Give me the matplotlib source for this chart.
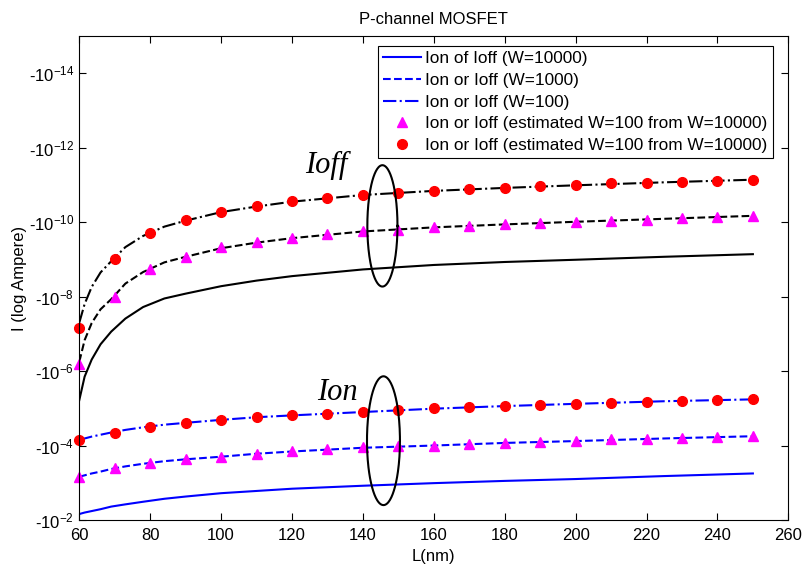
"""
P-channel MOSFET: Ion / Ioff versus channel length L for several widths W
(currents plotted as log magnitude, axis labelled with negative values)
"""

import numpy as np
import matplotlib
matplotlib.use('Agg')
import matplotlib.pyplot as plt
from matplotlib.ticker import FixedLocator, NullLocator

plt.rcParams['font.family'] = ['Liberation Sans', 'DejaVu Sans']
plt.rcParams['mathtext.fontset'] = 'custom'
plt.rcParams['mathtext.rm'] = 'Liberation Sans'
plt.rcParams['mathtext.it'] = 'Liberation Sans:italic'

# Channel length (nm) for the curves and for the markers
L_line = [60, 61.5, 63.5, 66, 69, 73, 78, 84, 90, 100, 110, 120, 140, 160, 180, 200, 225, 250]
L_mark = [60, 70, 80, 90, 100, 110, 120, 130, 140, 150,
          160, 170, 180, 190, 200, 210, 220, 230, 240, 250]

# log10(|I|)
ion_w10000 = [-2.16, -2.20, -2.24, -2.29, -2.36, -2.42, -2.49, -2.57, -2.63, -2.72,
              -2.78, -2.84, -2.92, -2.99, -3.05, -3.10, -3.18, -3.25]
ion_w1000 = [-3.16, -3.20, -3.25, -3.30, -3.37, -3.44, -3.51, -3.58, -3.63, -3.70,
             -3.78, -3.84, -3.94, -4.00, -4.07, -4.12, -4.19, -4.25]
ion_w100 = [-4.15, -4.19, -4.24, -4.29, -4.35, -4.42, -4.49, -4.56, -4.61, -4.69,
            -4.76, -4.81, -4.90, -4.99, -5.06, -5.12, -5.19, -5.24]

ioff_w10000 = [-5.22, -5.85, -6.31, -6.72, -7.06, -7.41, -7.72, -7.95, -8.08, -8.28,
               -8.43, -8.55, -8.73, -8.85, -8.93, -8.99, -9.07, -9.14]
ioff_w1000 = [-6.25, -6.83, -7.29, -7.66, -7.93, -8.35, -8.66, -8.92, -9.07, -9.30,
              -9.45, -9.57, -9.75, -9.86, -9.94, -10.01, -10.09, -10.17]
ioff_w100 = [-7.30, -7.80, -8.26, -8.65, -8.95, -9.33, -9.63, -9.88, -10.04, -10.27,
             -10.42, -10.55, -10.73, -10.84, -10.92, -10.99, -11.07, -11.14]

# estimated points (markers)
ion_tri = [-3.16, -3.39, -3.54, -3.63, -3.70, -3.78, -3.84, -3.90, -3.95, -3.98,
           -4.00, -4.03, -4.08, -4.10, -4.13, -4.17, -4.18, -4.21, -4.23, -4.25]
ion_circ = [-4.15, -4.35, -4.50, -4.61, -4.68, -4.77, -4.81, -4.85, -4.90, -4.95,
            -5.00, -5.03, -5.06, -5.10, -5.12, -5.15, -5.18, -5.19, -5.22, -5.24]
ioff_tri = [-6.19, -8.00, -8.73, -9.07, -9.32, -9.46, -9.58, -9.67, -9.76, -9.80,
            -9.86, -9.89, -9.95, -9.98, -10.01, -10.04, -10.06, -10.10, -10.13, -10.17]
ioff_circ = [-7.15, -9.00, -9.70, -10.05, -10.28, -10.43, -10.56, -10.65, -10.73, -10.77,
             -10.84, -10.89, -10.91, -10.97, -10.99, -11.04, -11.06, -11.08, -11.11, -11.14]

legend_labels = ['Ion of Ioff (W=10000)',
                 'Ion or Ioff (W=1000)',
                 'Ion or Ioff (W=100)',
                 'Ion or Ioff (estimated W=100 from W=10000)',
                 'Ion or Ioff (estimated W=100 from W=10000)']

ytick_exp = [-14, -12, -10, -8, -6, -4, -2]
y_bottom = -2.0
y_top = -15.0


def mag(e):
    return 10.0 ** np.asarray(e)


fig = plt.figure(figsize=(8.05, 5.67), dpi=100)
ax = fig.add_axes([0.0985, 0.0829, 0.8808, 0.8536])

lw = 1.5
ax.plot(L_line, mag(ion_w10000), '-', color='blue', lw=lw, label=legend_labels[0])
ax.plot(L_line, mag(ion_w1000), '--', color='blue', lw=lw, label=legend_labels[1])
ax.plot(L_line, mag(ion_w100), '-.', color='blue', lw=lw, label=legend_labels[2])
ax.plot(L_mark, mag(ion_tri), '^', color='magenta', ms=7.5, ls='none',
        clip_on=False, label=legend_labels[3])
ax.plot(L_mark, mag(ion_circ), 'o', color='red', ms=7, ls='none',
        clip_on=False, label=legend_labels[4])

ax.plot(L_line, mag(ioff_w10000), '-', color='black', lw=lw)
ax.plot(L_line, mag(ioff_w1000), '--', color='black', lw=lw)
ax.plot(L_line, mag(ioff_w100), '-.', color='black', lw=lw)
ax.plot(L_mark, mag(ioff_tri), '^', color='magenta', ms=7.5, ls='none', clip_on=False)
ax.plot(L_mark, mag(ioff_circ), 'o', color='red', ms=7, ls='none', clip_on=False)

# ellipses drawn in log space so they look round on screen
t = np.linspace(0, 2 * np.pi, 200)
ax.plot(145.5 + 4.25 * np.cos(t), mag(-9.90 + 1.63 * np.sin(t)), color='black', lw=1.5)
ax.plot(145.8 + 4.65 * np.cos(t), mag(-4.13 + 1.73 * np.sin(t)), color='black', lw=1.5)

ax.text(123.7, mag(-11.32), 'Ioff', fontsize=22, style='italic',
        family='Liberation Serif', ha='left', va='baseline')
ax.text(127.0, mag(-5.22), 'Ion', fontsize=22, style='italic',
        family='Liberation Serif', ha='left', va='baseline')

ax.set_xlim(60, 260)
ax.set_xticks(range(60, 261, 20))
ax.set_yscale('log')
ax.set_ylim(mag(y_bottom), mag(y_top))
ax.yaxis.set_major_locator(FixedLocator(mag(ytick_exp)))
ax.yaxis.set_minor_locator(NullLocator())
ax.set_yticklabels(['-10$^{%d}$' % e for e in ytick_exp])

ax.tick_params(direction='in', top=True, right=True, length=5, labelsize=12)
ax.tick_params(axis='x', pad=6)
for s in ax.spines.values():
    s.set_linewidth(0.8)

ax.set_xlabel('L(nm)', fontsize=12, labelpad=4)
ax.set_ylabel('I (log Ampere)', fontsize=12, labelpad=1)
ax.set_title('P-channel MOSFET', fontsize=12, pad=9)

leg = ax.legend(loc='upper right', bbox_to_anchor=(0.978, 0.979), borderaxespad=0,
                fontsize=12.4, numpoints=1, handlelength=2.2, handletextpad=0.25,
                labelspacing=0.38, borderpad=0.3, fancybox=False, framealpha=1)
leg.get_frame().set_edgecolor('black')
leg.get_frame().set_linewidth(0.8)

plt.savefig('out.png', dpi=100)
